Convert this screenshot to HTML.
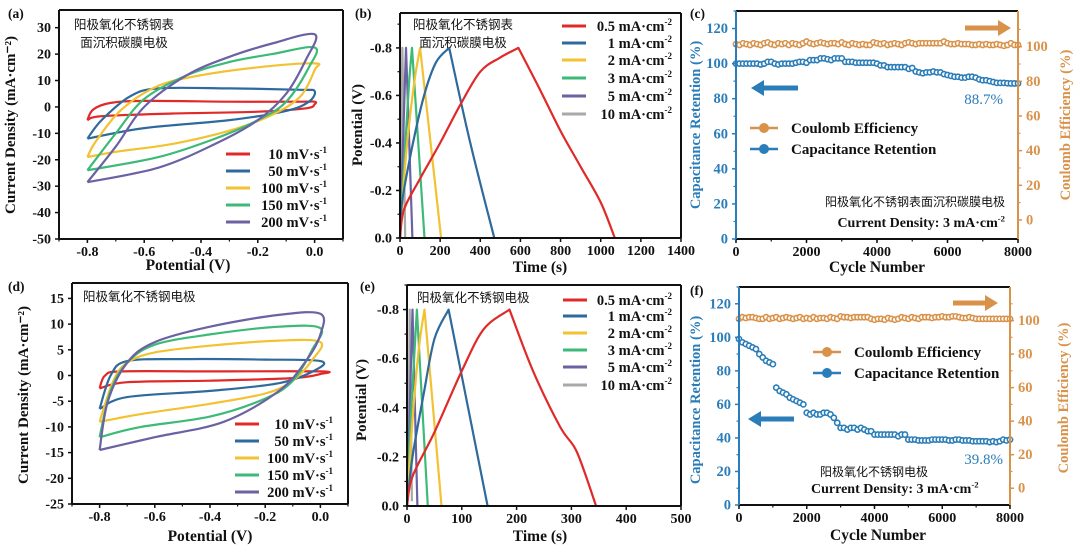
<!DOCTYPE html>
<html><head><meta charset="utf-8">
<style>
html,body{margin:0;padding:0;background:#fff;}
svg{display:block;}
text{font-family:"Liberation Serif","Noto Serif CJK SC",serif;font-weight:bold;fill:#111;}
.cn{font-family:"Liberation Sans","Noto Sans CJK SC",sans-serif;font-weight:normal;}
</style></head>
<body>
<svg id="fig" width="1080" height="553" viewBox="0 0 1080 553" xmlns="http://www.w3.org/2000/svg"></svg>
<script>
// ---------- data ----------
const cvA_10_x=[-0.8,-0.78,-0.72,-0.6,-0.3,-0.05,0,0,-0.03,-0.2,-0.5,-0.75,-0.8];
const cvA_10_y=[-5,-1,1.5,2.3,2,2,2,1,-0.5,-1.8,-2.5,-3.5,-5];
const cvA_50_x=[-0.8,-0.75,-0.65,-0.55,-0.3,-0.05,0,-0.02,-0.1,-0.3,-0.6,-0.8];
const cvA_50_y=[-12,-5,4,7,7,6.5,6,2,-1.5,-5,-8,-12];
const cvA_100_x=[-0.8,-0.77,-0.68,-0.55,-0.4,-0.2,0,0,-0.05,-0.15,-0.3,-0.5,-0.7,-0.8];
const cvA_100_y=[-19,-13,-1,8,12,15,16.5,14,4,-3,-9,-14,-17,-19];
const cvA_150_x=[-0.8,-0.7,-0.6,-0.45,-0.3,-0.15,0,-0.02,-0.1,-0.2,-0.35,-0.55,-0.8];
const cvA_150_y=[-24,-10,3,12,17,20,22.5,15,2,-5,-12,-19,-24];
const cvA_200_x=[-0.8,-0.7,-0.6,-0.45,-0.3,-0.15,0,-0.03,-0.1,-0.2,-0.35,-0.55,-0.8];
const cvA_200_y=[-28.5,-15,0,12,19,24,27.5,18,5,-5,-14,-23,-28.5];
const cvD_10_x=[-0.8,-0.78,-0.72,-0.4,0,0,-0.1,-0.4,-0.7,-0.8];
const cvD_10_y=[-2.5,0,0.8,0.8,0.8,0.3,-0.5,-1,-1.3,-2.5];
const cvD_50_x=[-0.8,-0.76,-0.7,-0.5,-0.2,0,-0.02,-0.15,-0.4,-0.7,-0.8];
const cvD_50_y=[-6.5,0,2.8,3.2,3.1,2.8,1,-1.5,-3,-4.2,-6.5];
const cvD_100_x=[-0.8,-0.75,-0.7,-0.6,-0.4,-0.15,0,-0.03,-0.1,-0.2,-0.4,-0.65,-0.8];
const cvD_100_y=[-9,-1,2.5,4.5,5.8,6.8,6.5,3,-1,-3.5,-5.5,-7.5,-9];
const cvD_150_x=[-0.8,-0.76,-0.7,-0.6,-0.4,-0.15,0,-0.03,-0.1,-0.2,-0.4,-0.65,-0.8];
const cvD_150_y=[-12,-3,2.5,6,8,9.5,9.2,5,-1,-4.5,-8,-10,-12];
const cvD_200_x=[-0.8,-0.77,-0.7,-0.6,-0.4,-0.15,0,0,-0.05,-0.15,-0.35,-0.6,-0.8];
const cvD_200_y=[-14.5,-5,2.5,6.5,9.5,11.8,12,8,3,-3,-9,-12,-14.5];
const cvLabels=["10","50","100","150","200"];
const gB_05_t=[0,20,100,200,300,400,500,590,700,800,900,1000,1070];
const gB_05_v=[0,-0.12,-0.25,-0.4,-0.56,-0.7,-0.76,-0.8,-0.62,-0.45,-0.3,-0.15,0];
const gB_1_t=[0,10,60,120,180,245,350,470];
const gB_1_v=[0,-0.15,-0.38,-0.6,-0.74,-0.8,-0.4,0];
const gB_2_t=[0,30,70,100,205];
const gB_2_v=[0,-0.35,-0.65,-0.8,0];
const gB_3_t=[0,20,45,60,122];
const gB_3_v=[0,-0.3,-0.65,-0.8,0];
const gB_5_t=[0,30,62];
const gB_5_v=[0,-0.8,0];
const gB_10_t=[0,12,26];
const gB_10_v=[-0.05,-0.8,0];
const gE_05_t=[0,10,50,100,140,187,230,280,310,345];
const gE_05_v=[0,-0.12,-0.3,-0.55,-0.72,-0.8,-0.55,-0.32,-0.22,0];
const gE_1_t=[0,10,30,50,76,147];
const gE_1_v=[0,-0.2,-0.45,-0.68,-0.8,0];
const gE_2_t=[0,10,22,32,63];
const gE_2_v=[0,-0.35,-0.65,-0.8,0];
const gE_3_t=[0,8,18,38];
const gE_3_v=[0,-0.4,-0.8,0];
const gE_5_t=[0,10,19];
const gE_5_v=[0,-0.8,0];
const gE_10_t=[2,5,9];
const gE_10_v=[-0.05,-0.8,-0.02];
const gcdLabels=["0.5","1","2","3","5","10"];
const cycles=[];for(let i=0;i<=80;i++)cycles.push(i*100);
const retC=[100,100,100,100,100,100,100,99.5,100,101,101,100,99.5,100,100,100,100,100.5,
101,101,100.5,102,102,102,103,103,102.5,102,103,103,103,
101,101,101,100.5,100.5,100.5,100.5,100.5,100.5,100,
99,99,98,98,98,98,98,98,97,97.5,
95.5,95,94.5,95,95,95.5,95,95,94,93.5,
93,92.5,92.5,92,92,92.5,92.5,92,91,90.5,
90.5,90,89.5,89,89,89,88.8,88.7,88.7,88.7];
const ceC=[101.5,101,102,101.5,101,102,101.5,101,102,102.5,101.5,101,102,101.5,102,101,102,101.5,101,102,
103,102,101.5,102,102.5,102,101.5,102,102,101.5,102.5,101.5,101,102,101.5,101,101.5,101,101,102.5,
102,101.5,102,101,101.5,102,101.5,101,102,102.5,102,101.5,102,102,102,102,102,102,102,103,
102,101.5,101.5,102,101.5,101.5,101.5,101,101,101.5,101,101.5,101,101,101.5,101,100.5,101,102,101,101];
const retF=[99,97,96,95,94,93,90,88,86,85,
84,70,68,67,66,64,63,62,61,60,
55,54,55,54,54,55,55,54,52,49,
46,46,45,46,46,45,46,45,44,44,
42,42,42,42,42,42,42,41,42,42,
39,39,39,38.5,38.5,38.5,38.5,39,39,39,
39,39,38.5,38.5,39,39,38.5,38.5,38.5,38,
38,38,38,38,37.5,38,37.5,38,39,38.5,39];
const ceF=[101,102,101.5,102,102,101.5,101,101,102,101,101.5,102,101,101.5,102,101.5,101,101.5,102,101,
101.5,101,102,101,101.5,101.5,101,102,101.5,101,102.5,102,102,101.5,102,102,102,102,102,101,
100.5,101,101,100.5,101.5,101,100.5,101,102,101.5,101,102,101.5,101,102,102,102,101.5,102,102,
102.5,102,102,102.5,102.5,102,101.5,101.5,102,101.5,101,101,101,101,101,101,101,101,101,101,101];

// ---------- drawing helpers ----------
const NS="http://www.w3.org/2000/svg";
const svg=document.getElementById('fig');
function mk(tag,attrs,parent){const e=document.createElementNS(NS,tag);for(const k in attrs)e.setAttribute(k,attrs[k]);(parent||svg).appendChild(e);return e;}
function scale(d0,d1,r0,r1){return v=>r0+(v-d0)/(d1-d0)*(r1-r0);}
function smooth(pts,cont){let d=(cont?"L":"M")+pts[0][0].toFixed(1)+","+pts[0][1].toFixed(1);
 for(let i=0;i<pts.length-1;i++){const p0=pts[Math.max(i-1,0)],p1=pts[i],p2=pts[i+1],p3=pts[Math.min(i+2,pts.length-1)];
  const c1=[p1[0]+(p2[0]-p0[0])/6,p1[1]+(p2[1]-p0[1])/6],c2=[p2[0]-(p3[0]-p1[0])/6,p2[1]-(p3[1]-p1[1])/6];
  d+=" C"+c1[0].toFixed(1)+","+c1[1].toFixed(1)+" "+c2[0].toFixed(1)+","+c2[1].toFixed(1)+" "+p2[0].toFixed(1)+","+p2[1].toFixed(1);}
 return d;}
function txt(x,y,s,attrs,parent){const t=mk('text',Object.assign({x:x,y:y},attrs||{}),parent);t.textContent=s;return t;}
function frame(g,x0,y0,x1,y1,lc,rc){
 mk('line',{x1:x0,y1:y0,x2:x1,y2:y0,stroke:'#111','stroke-width':2},g);
 mk('line',{x1:x0,y1:y1,x2:x1,y2:y1,stroke:'#111','stroke-width':2},g);
 mk('line',{x1:x0,y1:y0,x2:x0,y2:y1,stroke:lc||'#111','stroke-width':2},g);
 mk('line',{x1:x1,y1:y0,x2:x1,y2:y1,stroke:rc||'#111','stroke-width':2},g);}
function xticks(g,sx,y1,ticks,minor,fmt,fs){
 ticks.forEach(v=>{const x=sx(v);mk('line',{x1:x,y1:y1,x2:x,y2:y1+4,stroke:'#111','stroke-width':1.5},g);
  const t=txt(x,y1+17,fmt(v),{'text-anchor':'middle','font-size':fs||14},g);
  
  });
 minor.forEach(v=>{const x=sx(v);mk('line',{x1:x,y1:y1,x2:x,y2:y1+2.5,stroke:'#111','stroke-width':1.2},g);});}
function yticks(g,sy,x0,ticks,minor,fmt,side,col,fs){
 const dir=side==='r'?1:-1;
 ticks.forEach(v=>{const y=sy(v);mk('line',{x1:x0,y1:y,x2:x0+4*dir,y2:y,stroke:col||'#111','stroke-width':1.5},g);
  const t=txt(x0+8*dir,y+4.5,fmt(v),{'text-anchor':side==='r'?'start':'end','font-size':fs||14,style:col?'fill:'+col:''},g);
  
  });
 minor.forEach(v=>{const y=sy(v);mk('line',{x1:x0,y1:y,x2:x0+2.5*dir,y2:y,stroke:col||'#111','stroke-width':1.2},g);});}
function rng(a,b,s){const r=[];for(let v=a;v<=b+1e-9;v+=s)r.push(+v.toFixed(6));return r;}
function vtitle(x,y,s,col,fs,parent){const t=mk('text',{x:0,y:0,'text-anchor':'middle','font-size':fs||15,transform:'translate('+x+','+y+') rotate(-90)',style:col?'fill:'+col:''},parent);t.textContent=s;return t;}
function supText(x,y,main,sup,anchor,fs,parent,col){
 const t=mk('text',{x:x,y:y,'text-anchor':anchor,'font-size':fs,style:col?'fill:'+col:''},parent);
 t.appendChild(document.createTextNode(main));
 const ts=mk('tspan',{'font-size':fs*0.62,dy:-fs*0.4},t);ts.textContent=sup;return t;}
const cvCols=['#e02a2a','#2e6a9c','#f2c232','#3dba77','#6b62a3'];
const gcdCols=['#e02a2a','#2e6a9c','#f2c232','#3dba77','#6b62a3','#a9a9a9'];
const BLUE='#2a7db8',ORANGE='#d8924a';

function cvPanel(name,c,loopsX,loopsY,yt,ymin,legY,legX,legEnd){
 const g=mk('g',{});
 const sx=scale(c.xmin,c.xmax,c.x0,c.x1),sy=scale(c.ymin,c.ymax,c.y1,c.y0);
 for(let k=0;k<loopsX.length;k++){
  const pts=loopsX[k].map((v,i)=>[sx(v),sy(loopsY[k][i])]);
  const p=mk('path',{d:smooth(pts),fill:'none',stroke:cvCols[k],'stroke-width':2.2,'stroke-linejoin':'round'},g);
  
  
 }
 frame(g,c.x0,c.y0,c.x1,c.y1);
 xticks(g,sx,c.y1,rng(-0.8,0,0.2),rng(-0.9,0.1,0.1),v=>v===0?'0.0':v.toFixed(1));
 yticks(g,sy,c.x0,yt,[],v=>String(v));
 for(let k=0;k<5;k++){const y=legY[k];
  const l=mk('line',{x1:legX,y1:y,x2:legX+24,y2:y,stroke:cvCols[k],'stroke-width':3},g);
  
  
  const t=supText(legEnd,y+5,cvLabels[k]+' mV·s','-1','end',14.5,g);
  
  }
 return g;}

function gcdPanel(name,c,ts,vs,xt,legY,legX,legEnd){
 const g=mk('g',{});
 const sx=scale(c.xmin,c.xmax,c.x0,c.x1),sy=scale(c.ymin,c.ymax,c.y1,c.y0);
 for(let k=ts.length-1;k>=0;k--){
  const pts=ts[k].map((v,i)=>[sx(v),sy(vs[k][i])]);
  let pk=0;vs[k].forEach((v,i)=>{if(v<vs[k][pk])pk=i;});
  const d=smooth(pts.slice(0,pk+1))+" "+smooth(pts.slice(pk),true);
  const p=mk('path',{d:d,fill:'none',stroke:gcdCols[k],'stroke-width':2.2,'stroke-linejoin':'round'},g);
  
  
 }
 frame(g,c.x0,c.y0,c.x1,c.y1);
 xticks(g,sx,c.y1,xt,[],v=>String(v));
 yticks(g,sy,c.x0,rng(-0.8,0,0.2).reverse(),rng(-0.9,0,0.1),v=>v===0?'0.0':v.toFixed(1));
 for(let k=0;k<6;k++){const y=legY[k];
  const l=mk('line',{x1:legX,y1:y,x2:legX+24,y2:y,stroke:gcdCols[k],'stroke-width':3},g);
  
  
  const t=supText(legEnd,y+5,gcdLabels[k]+' mA·cm','-2','end',14.5,g);
  
  }
 return g;}

function cycPanel(name,c,ret,ce,legX,legY){
 const g=mk('g',{});
 const sx=scale(0,8000,c.x0,c.x1),sy=scale(0,130,c.y1,c.y0),sr=scale(c.rmin,c.rmax,c.y1,c.y0);
 cycles.forEach((cy,i)=>{const m=mk('circle',{cx:sx(cy),cy:sr(ce[i]),r:2.6,fill:'#fff',stroke:ORANGE,'stroke-width':1.6},g);
  
  });
 cycles.forEach((cy,i)=>{const m=mk('circle',{cx:sx(cy),cy:sy(ret[i]),r:2.6,fill:'#fff',stroke:BLUE,'stroke-width':1.6},g);
  
  });
 frame(g,c.x0,c.y0,c.x1,c.y1,BLUE,ORANGE);
 xticks(g,sx,c.y1,rng(0,8000,2000),rng(0,8000,1000),v=>String(v));
 yticks(g,sy,c.x0,rng(0,120,20),rng(10,130,20),v=>String(v),'l',BLUE,14.5);
 yticks(g,sr,c.x1,rng(0,100,20),rng(10,110,20),v=>String(v),'r',ORANGE,14.5);
 const rows=[[ORANGE,'Coulomb Efficiency'],[BLUE,'Capacitance Retention']];
 rows.forEach((r,k)=>{const y=legY+k*21;
  mk('line',{x1:legX,y1:y,x2:legX+28,y2:y,stroke:r[0],'stroke-width':2.5},g);
  const m=mk('circle',{cx:legX+14,cy:y,r:5,fill:r[0]},g);
  
  
  const t=txt(legX+41,y+5,r[1],{'font-size':15},g);
  
  });
 return g;}
function arrow(x1,x2,y,col,nm){const dir=x2>x1?1:-1;
 const g=mk('g',{});
 mk('line',{x1:x1,y1:y,x2:x2-dir*11,y2:y,stroke:col,'stroke-width':5},g);
 mk('polygon',{points:(x2)+','+y+' '+(x2-dir*13)+','+(y-8)+' '+(x2-dir*13)+','+(y+8),fill:col},g);}

// ===== Panel a =====
cvPanel('panel-a-cv',{x0:59,x1:343,y0:10,y1:239,xmin:-0.9,xmax:0.1,ymin:-50,ymax:36.7},
 [cvA_10_x,cvA_50_x,cvA_100_x,cvA_150_x,cvA_200_x],[cvA_10_y,cvA_50_y,cvA_100_y,cvA_150_y,cvA_200_y],
 rng(-50,30,10),-50,[154,171,188,205,222],226,327);
txt(8,18,'(a)',{'font-size':13.5});
txt(124,29,'阳极氧化不锈钢表',{'text-anchor':'middle','font-size':12.5,class:'cn'});
txt(124,47,'面沉积碳膜电极',{'text-anchor':'middle','font-size':12.5,class:'cn'});
{const t=vtitle(15,125,'Current Density (mA·cm⁻²)',null,15);}
{const t=txt(188,270,'Potential  (V)',{'text-anchor':'middle','font-size':15.5});}

// ===== Panel b =====
gcdPanel('panel-b-gcd',{x0:400,x1:681,y0:13,y1:238,xmin:0,xmax:1400,ymin:0,ymax:-0.947},
 [gB_05_t,gB_1_t,gB_2_t,gB_3_t,gB_5_t,gB_10_t],[gB_05_v,gB_1_v,gB_2_v,gB_3_v,gB_5_v,gB_10_v],
 rng(0,1400,200),[26,43,60,78,96,114],562,672);
txt(355,18,'(b)',{'font-size':13.5});
txt(463,29,'阳极氧化不锈钢表',{'text-anchor':'middle','font-size':12.5,class:'cn'});
txt(463,47,'面沉积碳膜电极',{'text-anchor':'middle','font-size':12.5,class:'cn'});
{const t=vtitle(362,125,'Potential (V)',null,15);}
{const t=txt(540,272,'Time (s)',{'text-anchor':'middle','font-size':15.5});}

// ===== Panel c =====
cycPanel('panel-c-cycling',{x0:736,x1:1018,y0:11,y1:239,rmin:-11,rmax:120.6},retC,ceC,750,128);
arrow(798,751,88,BLUE,'retention-axis-arrow');
arrow(965,1011,28,ORANGE,'efficiency-axis-arrow');
txt(1003,104,'88.7%',{'text-anchor':'end','font-size':15,style:'fill:'+BLUE+';font-weight:normal'});
txt(1005,206,'阳极氧化不锈钢表面沉积碳膜电极',{'text-anchor':'end','font-size':12,class:'cn'});
supText(1005,227,'Current Density: 3 mA·cm','-2','end',14,null);
txt(690,18,'(c)',{'font-size':13.5});
{const t=vtitle(700,125,'Capacitance Retention (%)',BLUE,14.5);}
{const t=vtitle(1070,125,'Coulomb Efficiency (%)',ORANGE,14.5);}
{const t=txt(877,272,'Cycle Number',{'text-anchor':'middle','font-size':15.5});}

// ===== Panel d =====
cvPanel('panel-d-cv',{x0:72,x1:348,y0:283,y1:504,xmin:-0.9,xmax:0.1,ymin:-25,ymax:18},
 [cvD_10_x,cvD_50_x,cvD_100_x,cvD_150_x,cvD_200_x],[cvD_10_y,cvD_50_y,cvD_100_y,cvD_150_y,cvD_200_y],
 rng(-25,15,5),-25,[424,441,458,475,492],235,333);
txt(8,291,'(d)',{'font-size':13.5});
txt(83,301,'阳极氧化不锈钢电极',{'font-size':12.5,class:'cn'});
{const t=vtitle(28,395,'Current Density (mA·cm⁻²)',null,15);}
{const t=txt(210,541,'Potential  (V)',{'text-anchor':'middle','font-size':15.5});}

// ===== Panel e =====
gcdPanel('panel-e-gcd',{x0:407,x1:681,y0:285,y1:506,xmin:0,xmax:500,ymin:0,ymax:-0.9},
 [gE_05_t,gE_1_t,gE_2_t,gE_3_t,gE_5_t,gE_10_t],[gE_05_v,gE_1_v,gE_2_v,gE_3_v,gE_5_v,gE_10_v],
 rng(0,500,100),[300,316,333,350,367,385],563,672);
txt(360,291,'(e)',{'font-size':13.5});
txt(417,302,'阳极氧化不锈钢电极',{'font-size':12.5,class:'cn'});
{const t=vtitle(366,400,'Potential (V)',null,15);}
{const t=txt(540,541,'Time (s)',{'text-anchor':'middle','font-size':15.5});}

// ===== Panel f =====
cycPanel('panel-f-cycling',{x0:739,x1:1010,y0:287,y1:505,rmin:-10,rmax:120},retF,ceF,813,352);
arrow(794,748,419,BLUE,'retention-axis-arrow');
arrow(953,998,303,ORANGE,'efficiency-axis-arrow');
txt(1003,464,'39.8%',{'text-anchor':'end','font-size':15,style:'fill:'+BLUE+';font-weight:normal'});
txt(820,476,'阳极氧化不锈钢电极',{'font-size':12,class:'cn'});
supText(811,493,'Current Density: 3 mA·cm','-2','start',14,null);
txt(690,295,'(f)',{'font-size':13.5});
{const t=vtitle(700,400,'Capacitance Retention (%)',BLUE,14.5);}
{const t=vtitle(1068,398,'Coulomb Efficiency (%)',ORANGE,14.5);}
{const t=txt(878,540,'Cycle Number',{'text-anchor':'middle','font-size':15.5});}
</script>
</body></html>
